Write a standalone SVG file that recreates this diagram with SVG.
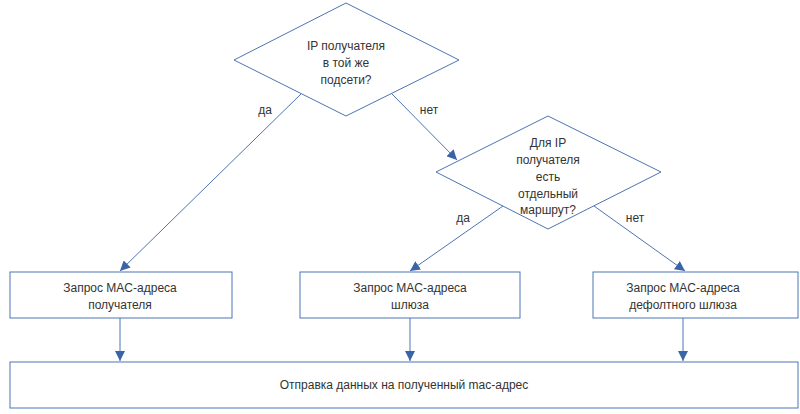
<svg xmlns="http://www.w3.org/2000/svg" width="800" height="414" viewBox="0 0 800 414">
<defs>
<marker id="ah" viewBox="0 0 10 10" refX="10" refY="5" markerWidth="10" markerHeight="10" markerUnits="userSpaceOnUse" orient="auto"><path d="M0,0 L10,5 L0,10 z" fill="#3a63a8"/></marker>
<style>
.s{fill:#fff;stroke:#4d74b4;stroke-width:1}
.c{stroke:#4d74b4;stroke-width:1;fill:none;marker-end:url(#ah)}
text{font-family:"Liberation Sans",Arial,sans-serif;font-size:12px;fill:#333;text-anchor:middle}
</style>
</defs>
<rect width="800" height="414" fill="#fff"/>
<g id="d1"><polygon class="s" points="346,3 459,60 346,116 234,60"/>
<text x="346" y="50">IP получателя</text><text x="346" y="67">в той же</text><text x="346" y="84">подсети?</text></g>
<g id="d2"><polygon class="s" points="548,116 661,172 548,229 436,172"/>
<text x="548" y="147">Для  IP</text><text x="548" y="164">получателя</text><text x="548" y="181">есть</text><text x="548" y="198">отдельный</text><text x="548" y="214">маршрут?</text></g>
<g id="b1"><rect class="s" x="10" y="272" width="222" height="46"/><text x="120" y="292">Запрос MAC-адреса</text><text x="120" y="309">получателя</text></g>
<g id="b2"><rect class="s" x="300" y="272" width="220" height="46"/><text x="410" y="292">Запрос MAC-адреса</text><text x="410" y="309">шлюза</text></g>
<g id="b3"><rect class="s" x="593" y="272" width="205" height="46"/><text x="683" y="292">Запрос MAC-адреса</text><text x="683" y="309">дефолтного шлюза</text></g>
<g id="b4"><rect class="s" x="10" y="362" width="788" height="46"/><text x="404" y="389">Отправка данных на полученный mac-адрес</text></g>
<g id="connectors">
<line class="c" x1="301" y1="94" x2="120" y2="271"/>
<line class="c" x1="392" y1="94" x2="457" y2="160"/>
<line class="c" x1="503" y1="206" x2="410" y2="271"/>
<line class="c" x1="594" y1="206" x2="685" y2="271"/>
<line class="c" x1="120" y1="318" x2="120" y2="361"/>
<line class="c" x1="410" y1="318" x2="410" y2="361"/>
<line class="c" x1="683" y1="318" x2="683" y2="361"/>
<text x="265" y="114">да</text><text x="429" y="114">нет</text>
<text x="463" y="222">да</text><text x="635" y="222">нет</text>
</g>
</svg>
